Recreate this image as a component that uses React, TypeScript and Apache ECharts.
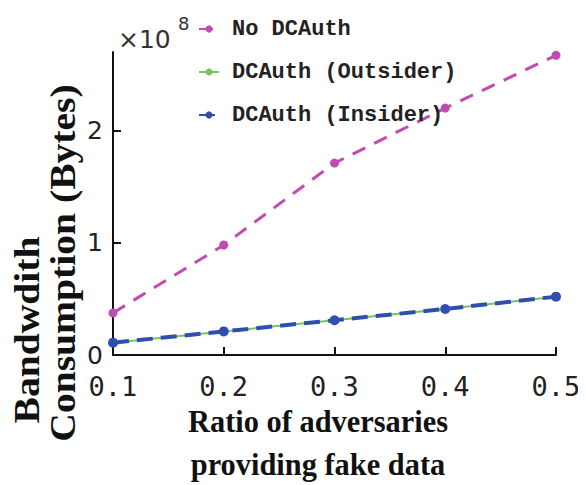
import React, { useEffect, useRef } from "react";
import * as echarts from "echarts";

// x values: ratio of adversaries providing fake data
const ratios = [0.1, 0.2, 0.3, 0.4, 0.5];
// y values in units of 1e8 bytes
const noDCAuth = [0.375, 0.98, 1.71, 2.2, 2.67];
const outsider = [0.11, 0.21, 0.31, 0.41, 0.52];
const insider = [0.11, 0.21, 0.31, 0.41, 0.52];
const seriesNames = ["No DCAuth", "DCAuth (Outsider)", "DCAuth (Insider)"];

export default function App() {
  const ref = useRef<HTMLDivElement>(null);
  useEffect(() => {
    if (!ref.current) return;
    const chart = echarts.init(ref.current, null, { renderer: "svg" });
    const pair = (ys: number[]) => ratios.map((x, i) => [x, ys[i]]);
    const serifBold = {
      fontFamily: "Liberation Serif",
      fontWeight: "bold",
      fill: "#111",
      align: "center",
      verticalAlign: "middle",
    };
    chart.setOption({
      animation: false,
      backgroundColor: "#ffffff",
      grid: { left: 105, right: 30, top: 44, bottom: 130 },
      xAxis: {
        type: "value",
        min: 0.1,
        max: 0.5,
        interval: 0.1,
        axisLine: { lineStyle: { color: "#111", width: 2 } },
        axisTick: { inside: true, length: 8, lineStyle: { color: "#111", width: 2 } },
        splitLine: { show: false },
        axisLabel: {
          color: "#222",
          fontFamily: "DejaVu Sans Mono",
          fontSize: 27,
          margin: 18,
          formatter: (v: number) => v.toFixed(1),
        },
      },
      yAxis: {
        type: "value",
        min: 0,
        max: 2.7,
        interval: 1,
        axisLine: { show: true, lineStyle: { color: "#111", width: 2 } },
        axisTick: { show: true, inside: true, length: 8, lineStyle: { color: "#111", width: 2 } },
        splitLine: { show: false },
        axisLabel: {
          color: "#222",
          fontFamily: "DejaVu Sans",
          fontSize: 25,
          margin: 10,
          showMaxLabel: false,
        },
      },
      legend: {
        orient: "vertical",
        left: 185,
        top: 5,
        itemGap: 21,
        itemWidth: 20,
        itemHeight: 9,
        data: seriesNames,
        textStyle: {
          fontFamily: "Liberation Mono",
          fontWeight: "bold",
          fontSize: 22,
          color: "#222",
          padding: [0, 0, 0, 8],
        },
      },
      graphic: [
        {
          type: "text",
          x: 110,
          y: 31,
          style: {
            text: "×10",
            fontFamily: "DejaVu Sans",
            fontSize: 25,
            fill: "#333",
            align: "left",
            verticalAlign: "middle",
          },
        },
        {
          type: "text",
          x: 170,
          y: 15,
          style: {
            text: "8",
            fontFamily: "DejaVu Sans",
            fontSize: 18,
            fill: "#333",
            align: "left",
            verticalAlign: "middle",
          },
        },
        {
          type: "text",
          x: 19,
          y: 322,
          rotation: Math.PI / 2,
          scaleX: 1.1,
          style: { ...serifBold, text: "Bandwdith", fontSize: 36 },
        },
        {
          type: "text",
          x: 55,
          y: 255,
          rotation: Math.PI / 2,
          scaleX: 1.1,
          style: { ...serifBold, text: "Consumption (Bytes)", fontSize: 36 },
        },
        {
          type: "text",
          x: 310,
          y: 413,
          scaleX: 0.95,
          style: { ...serifBold, text: "Ratio of adversaries", fontSize: 32 },
        },
        {
          type: "text",
          x: 310,
          y: 456,
          scaleX: 0.95,
          style: { ...serifBold, text: "providing fake data", fontSize: 32 },
        },
      ],
      series: [
        {
          name: seriesNames[0],
          type: "line",
          data: pair(noDCAuth),
          symbol: "circle",
          symbolSize: 9,
          itemStyle: { color: "#c24bb0" },
          lineStyle: { color: "#c24bb0", width: 3, type: [14, 10] },
          z: 2,
        },
        {
          name: seriesNames[1],
          type: "line",
          data: pair(outsider),
          symbol: "none",
          itemStyle: { color: "#7cc35c" },
          lineStyle: { color: "#7cc35c", width: 2 },
          z: 3,
        },
        {
          name: seriesNames[2],
          type: "line",
          data: pair(insider),
          symbol: "circle",
          symbolSize: 10,
          itemStyle: { color: "#2f4fae" },
          lineStyle: { color: "#2f4fae", width: 4, type: [16, 8] },
          z: 4,
        },
      ],
    });
    return () => chart.dispose();
  }, []);
  return <div ref={ref} style={{ width: 578, height: 477 }} />;
}
